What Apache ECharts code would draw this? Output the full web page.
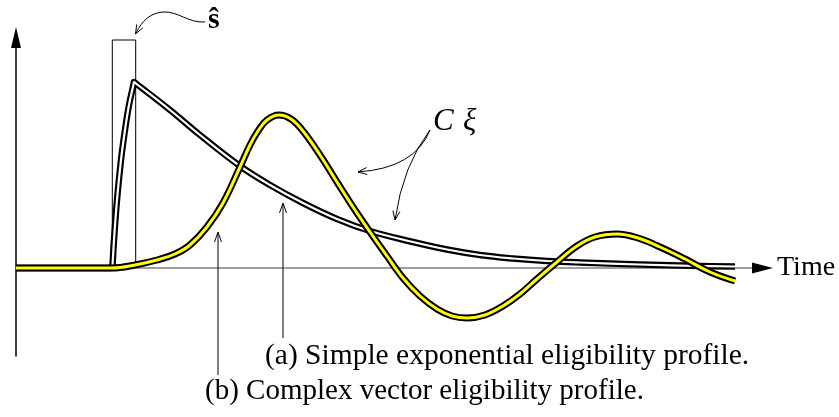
<!DOCTYPE html>
<html><head><meta charset="utf-8">
<script src="https://cdn.jsdelivr.net/npm/echarts@6/dist/echarts.min.js"></script>
<style>html,body{margin:0;padding:0;background:#fff}#c{width:839px;height:417px}</style>
</head><body><div id="c"></div>
<script>
// Simple exponential eligibility profile (double black/white line)
const expTime  = [0, 9.4, 9.6, 9.65, 9.8, 10.1, 10.5, 10.9, 11.3, 11.76, 11.8, 12.0, 15.4, 18.4, 22.4, 25.4, 28.7, 32.1, 35.4, 39.7, 43.1, 46.4, 49.7, 53.1, 56.4, 62.4, 68.4, 71.9];
const expValue = [0, 0, 0, 0.03, 0.28, 0.68, 1.08, 1.38, 1.63, 1.84, 1.86, 1.845, 1.58, 1.33, 1.02, 0.83, 0.65, 0.49, 0.37, 0.26, 0.185, 0.13, 0.095, 0.07, 0.055, 0.035, 0.02, 0.015];
// Complex vector eligibility profile (yellow line)
const cvTime  = [0, 9.6, 11.9, 14.1, 15.9, 17.4, 19.1, 20.7, 22.4, 23.4, 24.2, 25.1, 26.3, 27.5, 28.7, 30.4, 32.1, 33.7, 35.4, 37.1, 38.7, 40.4, 42.1, 43.6, 45.1, 46.9, 48.7, 50.4, 52.1, 54.1, 56.1, 57.9, 60.1, 62.2, 64.4, 66.9, 69.4, 71.9];
const cvValue = [0, 0, 0.03, 0.08, 0.14, 0.23, 0.41, 0.65, 1.01, 1.23, 1.37, 1.48, 1.53, 1.49, 1.37, 1.13, 0.86, 0.61, 0.36, 0.12, -0.10, -0.28, -0.41, -0.48, -0.50, -0.47, -0.38, -0.26, -0.11, 0.06, 0.22, 0.31, 0.34, 0.30, 0.21, 0.09, -0.04, -0.13];
// Input pulse s-hat
const pulseTime  = [9.63, 9.63, 11.97, 11.97];
const pulseValue = [0, 2.28, 2.28, 0];
// Labels
const labelTime = 'Time';
const labelA = '(a) Simple exponential eligibility profile.';
const labelB = '(b) Complex vector eligibility profile.';
const labelS = 'ŝ';

const zip = (a, b) => a.map((v, i) => [v, b[i]]);
const SERIF = '"Liberation Serif", "DejaVu Serif", serif';

function head(tip, from, len, half) {
  const dx = tip[0] - from[0], dy = tip[1] - from[1];
  const d = Math.hypot(dx, dy), ux = dx / d, uy = dy / d;
  const px = -uy, py = ux;
  const bx = tip[0] - ux * len, by = tip[1] - uy * len;
  return {
    type: 'polyline', z: 100,
    shape: { points: [[bx + px * half, by + py * half], tip, [bx - px * half, by - py * half]] },
    style: { stroke: '#000', lineWidth: 1, fill: null }
  };
}

const chart = echarts.init(document.getElementById('c'), null, { renderer: 'canvas' });
const common = { type: 'line', showSymbol: false, symbol: 'none', silent: true, animation: false, smooth: 0.4 };

chart.setOption({
  backgroundColor: '#fff',
  animation: false,
  grid: { left: 16, right: 76.5, top: 38, bottom: 61 },
  xAxis: {
    type: 'value', min: 0, max: 74.65,
    axisLine: { show: true, onZero: true, lineStyle: { color: '#808080', width: 1.5 } },
    axisTick: { show: false }, axisLabel: { show: false }, splitLine: { show: false }
  },
  yAxis: {
    type: 'value', min: -0.88, max: 2.3,
    axisLine: { show: true, onZero: true, lineStyle: { color: '#000', width: 1.5 } },
    axisTick: { show: false }, axisLabel: { show: false }, splitLine: { show: false }
  },
  series: [
    Object.assign({}, common, { name: 'pulse', smooth: false, z: 2, data: zip(pulseTime, pulseValue),
      lineStyle: { color: '#000', width: 1, join: 'miter' } }),
    Object.assign({}, common, { name: 'exp-outline', z: 3, data: zip(expTime, expValue),
      lineStyle: { color: '#000', width: 6.5, join: 'miter', miterLimit: 10 } }),
    Object.assign({}, common, { name: 'exp-inner', z: 4, data: zip(expTime, expValue),
      lineStyle: { color: '#fff', width: 2.2, join: 'miter', miterLimit: 10 } }),
    Object.assign({}, common, { name: 'cv-outline', z: 5, data: zip(cvTime, cvValue),
      lineStyle: { color: '#000', width: 7, join: 'round' } }),
    Object.assign({}, common, { name: 'cv-inner', z: 6, data: zip(cvTime, cvValue),
      lineStyle: { color: '#ffff00', width: 3, join: 'round' } })
  ],
  graphic: [
    // axis arrowheads
    { type: 'polygon', z: 100, shape: { points: [[16, 27], [11, 48], [21, 48]] }, style: { fill: '#000' } },
    { type: 'polygon', z: 100, shape: { points: [[752, 262.5], [773, 268], [752, 273.5]] }, style: { fill: '#000' } },
    // texts
    { type: 'text', z: 100, x: 777, y: 268, style: { text: labelTime, font: '28px ' + SERIF, fill: '#000', align: 'left', verticalAlign: 'middle' } },
    { type: 'text', z: 100, x: 265, y: 356, style: { text: labelA, font: '29.5px ' + SERIF, fill: '#000', align: 'left', verticalAlign: 'middle' } },
    { type: 'text', z: 100, x: 205, y: 391, style: { text: labelB, font: '29px ' + SERIF, fill: '#000', align: 'left', verticalAlign: 'middle' } },
    { type: 'text', z: 100, x: 208, y: 20, style: { text: labelS, font: 'bold 30px ' + SERIF, fill: '#000', align: 'left', verticalAlign: 'middle' } },
    { type: 'text', z: 100, x: 433, y: 122, style: { text: 'C', font: 'italic 31px ' + SERIF, fill: '#000', align: 'left', verticalAlign: 'middle' } },
    { type: 'text', z: 100, x: 463, y: 122, style: { text: 'ξ', font: 'italic 31px ' + SERIF, fill: '#000', align: 'left', verticalAlign: 'middle' } },
    // vertical pointer arrows
    { type: 'line', z: 100, shape: { x1: 283, y1: 338, x2: 283, y2: 204 }, style: { stroke: '#000', lineWidth: 1 } },
    head([283, 203], [283, 240], 10, 3.5),
    { type: 'line', z: 100, shape: { x1: 218, y1: 375, x2: 218, y2: 233 }, style: { stroke: '#000', lineWidth: 1 } },
    head([218, 232], [218, 270], 10, 3.5),
    // s-hat curly arrow
    { type: 'bezierCurve', z: 100, shape: { x1: 205, y1: 22, cpx1: 188, cpy1: 23, cpx2: 178, cpy2: 11, x2: 163, y2: 12 }, style: { stroke: '#000', lineWidth: 1, fill: null } },
    { type: 'bezierCurve', z: 100, shape: { x1: 163, y1: 12, cpx1: 150, cpy1: 13, cpx2: 142, cpy2: 21, x2: 136, y2: 33 }, style: { stroke: '#000', lineWidth: 1, fill: null } },
    head([135.5, 34], [142, 22], 9, 3.5),
    // C xi arrows
    { type: 'bezierCurve', z: 100, shape: { x1: 430, y1: 130, cpx1: 415, cpy1: 168, x2: 358, y2: 172 }, style: { stroke: '#000', lineWidth: 1, fill: null } },
    head([358, 172], [372, 170.5], 9, 3.5),
    { type: 'bezierCurve', z: 100, shape: { x1: 430, y1: 130, cpx1: 403, cpy1: 165, x2: 395, y2: 220 }, style: { stroke: '#000', lineWidth: 1, fill: null } },
    head([395, 220], [397, 207], 9, 3.5)
  ]
});
</script>
</body></html>
